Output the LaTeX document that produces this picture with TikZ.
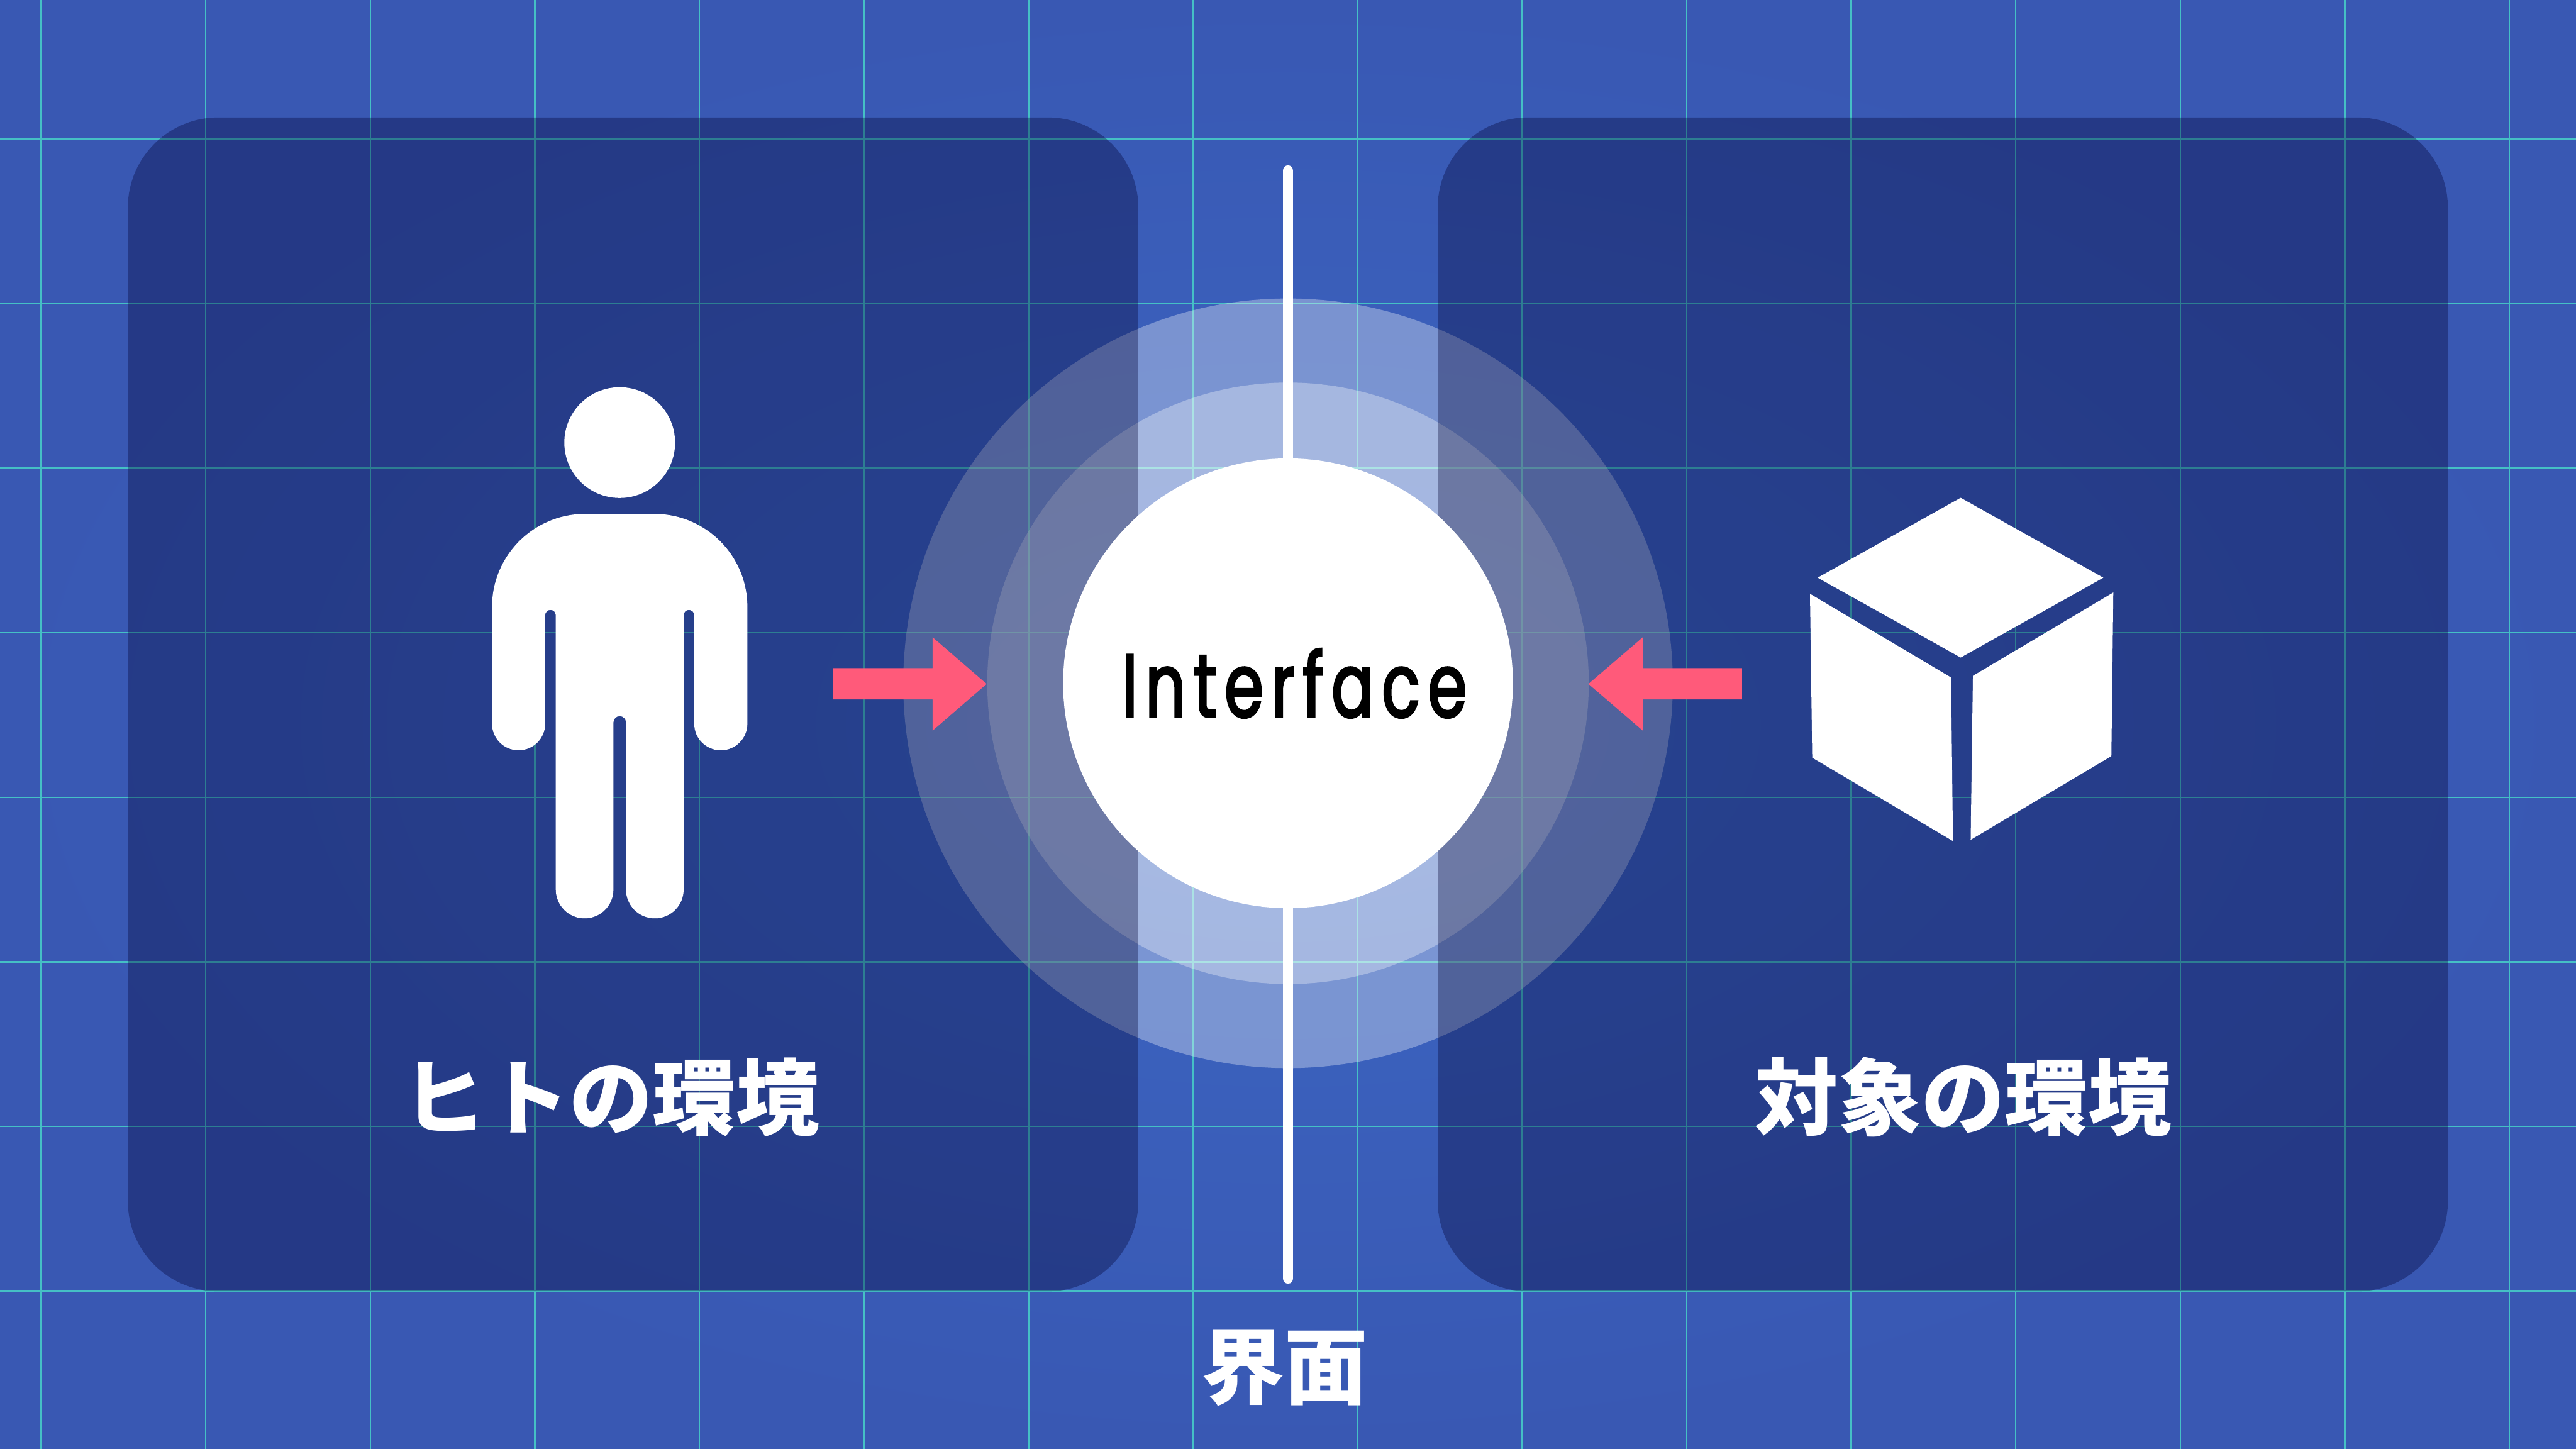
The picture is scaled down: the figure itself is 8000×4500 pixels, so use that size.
\documentclass[tikz,border=0pt]{standalone}
\usepackage{fontspec}
\newfontfamily\latinfont{Poppins}[FakeStretch=0.70, LetterSpace=9, FakeBold=2.4]
\newfontfamily\cjk{Noto Sans CJK JP}
\definecolor{bgedge}{HTML}{3958B3}
\definecolor{bgmid}{HTML}{3B67C3}
\definecolor{gridline}{HTML}{45C0C5}
\definecolor{panelshade}{HTML}{000030}
\definecolor{arrowpink}{HTML}{FF5A7A}
\tikzset{
    gridrule/.style={gridline, line width=0.045cm},
    panel/.style={fill=panelshade, fill opacity=0.34, rounded corners=2.8cm},
    glow/.style={fill=white, fill opacity=0.33},
    envlabel/.style={text=white, inner sep=0, font=\cjk\bfseries\fontsize{73.5}{74}\selectfont},
}
\begin{document}
\begin{tikzpicture}[x=0.01cm, y=-0.01cm]
    \useasboundingbox (0,0) rectangle (8000,4500);
    % background and guide lines
    \shade[inner color=bgmid, outer color=bgedge] (0,0) rectangle (8000,4500);
    \foreach \i in {0,...,15} {
        \draw[gridrule] ({128+511*\i},0) -- ({128+511*\i},4500);
    }
    \foreach \j in {0,...,7} {
        \draw[gridrule] (0,{432+511*\j}) -- (8000,{432+511*\j});
    }
    % interface glow, under the environments
    \fill[glow] (4000,2122) circle (1195);
    \fill[glow] (4000,2122) circle (934);
    % environments
    \fill[panel] (397,365) rectangle (3535,4010);
    \fill[panel] (4465,365) rectangle (7602,4010);
    % interface
    \coordinate (linetop) at (4000,530);
    \coordinate (linebottom) at (4000,3970);
    \draw[white, line width=0.33cm, line cap=round] (linetop) -- (linebottom);
    \node[circle, fill=white, inner sep=0, minimum size=13.96cm,
        font=\latinfont\fontsize{79}{79}\selectfont] (iface) at (4000,2122) {\hspace*{0.4cm}Interface};
    % arrows
    \fill[arrowpink] (2588,2075) -- (2896,2075) -- (2896,1979) -- (3064,2124)
        -- (2896,2269) -- (2896,2172) -- (2588,2172) -- cycle;
    \fill[arrowpink] (5410,2075) -- (5102,2075) -- (5102,1979) -- (4933,2124)
        -- (5102,2269) -- (5102,2172) -- (5410,2172) -- cycle;
    % person
    \fill[white] (1924.5,1374.5) circle (172);
    \fill[white] (1817,1596) -- (2032,1596) arc (-90:0:289) -- (2321,2247.5) arc (0:180:82.5)
        -- (2156,1910.5) arc (0:-180:16.5) -- (2123,2762.5) arc (0:180:89.5)
        -- (1944,2243.5) arc (0:-180:19.5) -- (1905,2762.5) arc (0:180:89.5)
        -- (1726,1910.5) arc (0:-180:16.5) -- (1693,2247.5) arc (0:180:82.5)
        -- (1528,1885) arc (180:270:289) -- cycle;
    % box
    \fill[white] (6089,1546) -- (6532,1794) -- (6089,2042) -- (5645,1794) -- cycle;
    \fill[white] (5621,1844) -- (6059,2104) -- (6065,2612) -- (5628,2353) -- cycle;
    \fill[white] (6563,1840) -- (6127,2099) -- (6120,2608) -- (6557,2348) -- cycle;
    % labels
    \node[envlabel] (humanlabel) at (1898,3407) {ヒトの環境};
    \node[envlabel] (objectlabel) at (6097,3407) {対象の環境};
    \node[envlabel] (ifacelabel) at (3990,4247) {界面};
\end{tikzpicture}
\end{document}
